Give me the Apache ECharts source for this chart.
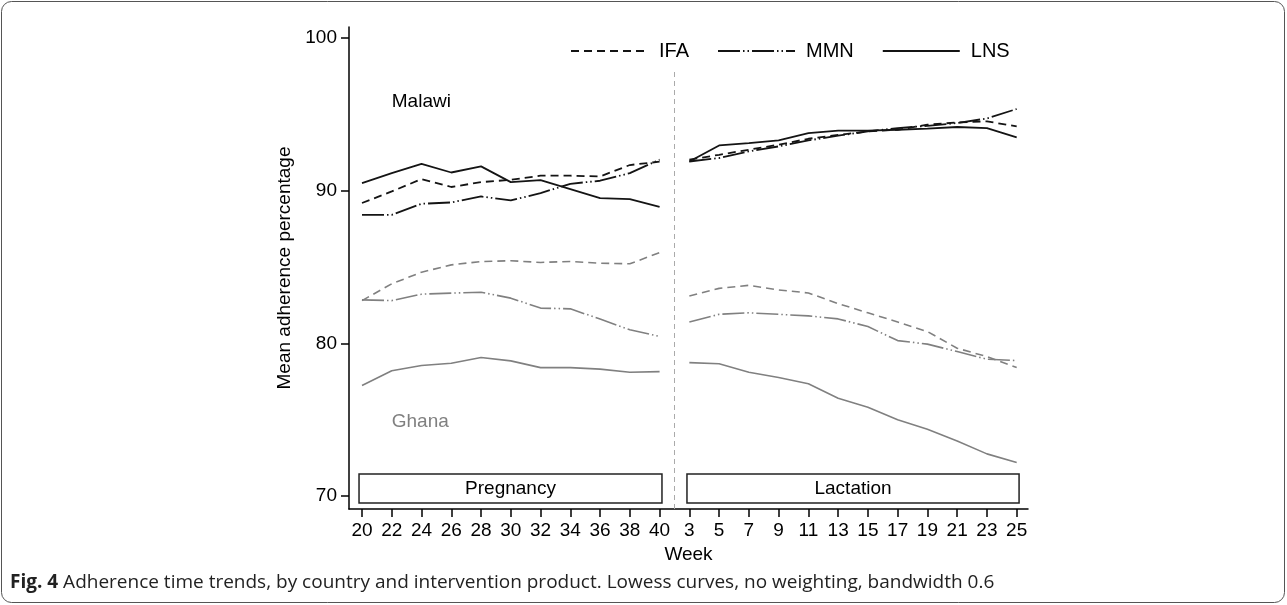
<!DOCTYPE html>
<html>
<head>
<meta charset="utf-8">
<script src="https://cdn.jsdelivr.net/npm/echarts@6/dist/echarts.min.js"></script>
<style>
html,body{margin:0;padding:0;background:#fff;}
#c{width:1287px;height:605px;}
</style>
</head>
<body>
<div id="c"></div>
<script>
// ---- data ----
const pregWeeks = [20, 22, 24, 26, 28, 30, 32, 34, 36, 38, 40];
const lactWeeks = [3, 5, 7, 9, 11, 13, 15, 17, 19, 21, 23, 25];
const tickLabels = pregWeeks.concat(lactWeeks).map(String);
const yTicks = [70, 80, 90, 100];

const malawiIFA_preg = [89.19, 89.95, 90.76, 90.24, 90.56, 90.71, 90.98, 90.98, 90.93, 91.68, 91.9];
const malawiMMN_preg = [88.42, 88.42, 89.14, 89.23, 89.62, 89.36, 89.84, 90.45, 90.65, 91.15, 92.03];
const malawiLNS_preg = [90.50, 91.15, 91.76, 91.19, 91.59, 90.56, 90.69, 90.10, 89.51, 89.45, 88.94];
const malawiIFA_lact = [92.03, 92.35, 92.68, 93.01, 93.40, 93.65, 93.88, 93.99, 94.32, 94.47, 94.54, 94.21];
const malawiMMN_lact = [91.91, 92.14, 92.57, 92.90, 93.29, 93.60, 93.88, 94.10, 94.25, 94.43, 94.73, 95.35];
const malawiLNS_lact = [91.91, 92.96, 93.12, 93.29, 93.77, 93.93, 93.93, 93.99, 94.06, 94.17, 94.10, 93.49];

const ghanaIFA_preg = [82.80, 83.90, 84.66, 85.14, 85.36, 85.41, 85.30, 85.36, 85.25, 85.21, 85.94];
const ghanaMMN_preg = [82.85, 82.80, 83.22, 83.29, 83.35, 82.96, 82.31, 82.26, 81.59, 80.89, 80.45];
const ghanaLNS_preg = [77.24, 78.20, 78.55, 78.70, 79.07, 78.85, 78.41, 78.41, 78.31, 78.11, 78.15];
const ghanaIFA_lact = [83.10, 83.60, 83.80, 83.50, 83.30, 82.60, 82.00, 81.40, 80.77, 79.68, 79.13, 78.41];
const ghanaMMN_lact = [81.40, 81.90, 82.00, 81.90, 81.80, 81.60, 81.10, 80.18, 79.95, 79.46, 78.96, 78.87];
const ghanaLNS_lact = [78.74, 78.66, 78.11, 77.76, 77.35, 76.41, 75.82, 74.99, 74.38, 73.61, 72.76, 72.19];

// ---- styles ----
const FONT = 'Liberation Sans, Arial, sans-serif';
const BLACK = '#141414';
const GREY = '#808080';
const dashIFA = [8, 5];
const dashMMN = [22, 3, 1.5, 3, 1.5, 3];

function pregData(arr){ return arr.map((v, i) => [i, v]); }
function lactData(arr){ return arr.map((v, i) => [pregWeeks.length + i, v]); }

function mk(name, data, color, type, width){
  return {
    name: name, type: 'line', data: data, symbol: 'none', showSymbol: false,
    lineStyle: {color: color, width: width, type: type},
    itemStyle: {color: color},
    emphasis: {disabled: true}, animation: false, z: 3
  };
}

const series = [
  mk('IFA', pregData(malawiIFA_preg), BLACK, dashIFA, 1.8),
  mk('MMN', pregData(malawiMMN_preg), BLACK, dashMMN, 1.8),
  mk('LNS', pregData(malawiLNS_preg), BLACK, 'solid', 1.8),
  mk('IFA', lactData(malawiIFA_lact), BLACK, dashIFA, 1.8),
  mk('MMN', lactData(malawiMMN_lact), BLACK, dashMMN, 1.8),
  mk('LNS', lactData(malawiLNS_lact), BLACK, 'solid', 1.8),
  mk('Ghana IFA', pregData(ghanaIFA_preg), GREY, dashIFA, 1.6),
  mk('Ghana MMN', pregData(ghanaMMN_preg), GREY, dashMMN, 1.6),
  mk('Ghana LNS', pregData(ghanaLNS_preg), GREY, 'solid', 1.6),
  mk('Ghana IFA', lactData(ghanaIFA_lact), GREY, dashIFA, 1.6),
  mk('Ghana MMN', lactData(ghanaMMN_lact), GREY, dashMMN, 1.6),
  mk('Ghana LNS', lactData(ghanaLNS_lact), GREY, 'solid', 1.6)
];

// period boxes + divider on a helper series
series.push({
  name: 'periods', type: 'line', data: [], symbol: 'none', animation: false, silent: true, z: 1,
  markArea: {
    silent: true,
    itemStyle: {color: '#fff', borderColor: '#222', borderWidth: 1.5},
    label: {show: true, position: 'inside', color: '#000', fontSize: 19, fontFamily: FONT},
    data: [
      [{name: 'Pregnancy', coord: [-0.1, 71.44]}, {coord: [10.08, 69.54]}],
      [{name: 'Lactation', coord: [10.92, 71.44]}, {coord: [22.08, 69.54]}]
    ]
  },
  markLine: {
    silent: true, symbol: 'none', z: 1,
    lineStyle: {color: '#aaaaaa', width: 1, type: [5, 4]},
    label: {show: false},
    data: [[{coord: [10.5, 69.15]}, {coord: [10.5, 97.9]}]]
  }
});

const idx = tickLabels.map((_, i) => i);

const chart = echarts.init(document.getElementById('c'), null, {renderer: 'canvas'});
const option = {
  backgroundColor: '#fff',
  animation: false,
  textStyle: {fontFamily: FONT},
  grid: {left: 349, top: 27, right: 259, bottom: 96, containLabel: false},
  legend: {
    data: ['IFA', 'MMN', 'LNS'],
    selectedMode: false,
    left: 566, top: 38, z: 20,
    padding: [3, 4],
    itemWidth: 77, itemHeight: 14, itemGap: 28,
    itemStyle: {opacity: 0, borderWidth: 0},
    textStyle: {fontSize: 20, color: '#000', fontFamily: FONT, padding: [0, 0, 0, 6]}
  },
  xAxis: {
    type: 'value', min: -0.437, max: 22.38,
    name: 'Week', nameLocation: 'middle', nameGap: 32,
    nameTextStyle: {fontSize: 19, color: '#000', fontFamily: FONT},
    axisLine: {show: true, onZero: false, lineStyle: {color: '#000', width: 1.5}},
    axisTick: {show: true, length: 8, customValues: idx, lineStyle: {color: '#000', width: 1.5}},
    axisLabel: {customValues: idx, formatter: v => tickLabels[Math.round(v)], fontSize: 19, color: '#000', margin: 12, fontFamily: FONT},
    splitLine: {show: false}
  },
  yAxis: {
    type: 'value', min: 69.15, max: 100.72,
    name: 'Mean adherence percentage', nameLocation: 'middle', nameGap: 55, nameRotate: 90,
    nameTextStyle: {fontSize: 19, color: '#000', fontFamily: FONT},
    axisLine: {show: true, onZero: false, lineStyle: {color: '#000', width: 1.5}},
    axisTick: {show: true, length: 8, customValues: yTicks, lineStyle: {color: '#000', width: 1.5}},
    axisLabel: {customValues: yTicks, fontSize: 19, color: '#000', margin: 12, fontFamily: FONT},
    splitLine: {show: false}
  },
  series: series
};
chart.setOption(option);

const pMal = chart.convertToPixel({gridIndex: 0}, [1.0, 95.83]);
const pGha = chart.convertToPixel({gridIndex: 0}, [1.0, 74.85]);
chart.setOption({
  graphic: [
    {type: 'rect', shape: {x: 1.5, y: 1.5, width: 1283, height: 601, r: 10},
     style: {fill: 'none', stroke: '#555', lineWidth: 1}, silent: true, z: 0},
    {type: 'text', x: pMal[0], y: pMal[1], style: {text: 'Malawi', fill: '#000', font: '19px ' + FONT, textVerticalAlign: 'middle'}},
    {type: 'text', x: pGha[0], y: pGha[1], style: {text: 'Ghana', fill: GREY, font: '19px ' + FONT, textVerticalAlign: 'middle'}},
    {type: 'text', x: 10, y: 583, style: {
      text: '{b|Fig. 4} Adherence time trends, by country and intervention product. Lowess curves, no weighting, bandwidth 0.6',
      rich: {b: {fontWeight: 'bold', fontSize: 19, fontFamily: 'Open Sans', fill: '#222'}},
      font: '19px "Open Sans"', fill: '#222', textVerticalAlign: 'middle'}}
  ]
});
</script>
</body>
</html>
